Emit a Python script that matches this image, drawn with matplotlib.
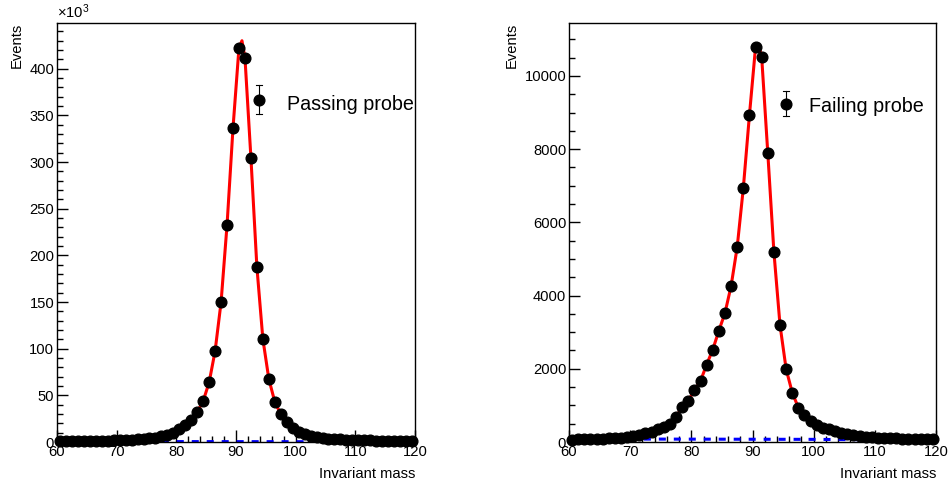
import numpy as np
import matplotlib
matplotlib.use("Agg")
import matplotlib.pyplot as plt
from matplotlib.ticker import MultipleLocator

plt.rcParams['font.family'] = ['Liberation Sans', 'DejaVu Sans']
plt.rcParams['mathtext.fontset'] = 'custom'
plt.rcParams['mathtext.rm'] = 'Liberation Sans'
plt.rcParams['mathtext.it'] = 'Liberation Sans'

# ---- data ----
bin_centers = np.arange(60.5, 120.0, 1.0)

passing = [0.85, 0.9, 0.95, 1.0, 1.1, 1.2, 1.3, 1.4, 1.5, 1.7,
           1.9, 2.1, 2.4, 2.8, 3.3, 3.9, 4.6, 6.1, 7.9, 10.0,
           13.6, 18.2, 23.6, 32, 44, 64, 97.6, 150, 232.7, 336.7,
           422.5, 411.8, 304.6, 187.7, 110.5, 67.6, 43, 30, 21, 14.7,
           10.7, 8.2, 6.4, 5.2, 4.3, 3.6, 3.1, 2.7, 2.4, 2.2,
           2.0, 1.8, 1.7, 1.6, 1.5, 1.4, 1.3, 1.25, 1.2, 1.15]  # x10^3

failing = [65, 70, 75, 80, 85, 90, 100, 110, 120, 140,
           155, 191, 237, 282, 346, 401, 492, 692, 948, 1120,
           1421, 1667, 2113, 2523, 3040, 3525, 4262, 5328, 6940, 8934,
           10792, 10519, 7896, 5191, 3190, 1990, 1348, 938, 738, 583,
           464, 392, 346, 300, 255, 210, 180, 160, 145, 130,
           120, 110, 105, 100, 95, 90, 85, 80, 75, 70]

# fit peak
fit_peak_x = [91.0]
fit_peak_pass = [430]
fit_peak_fail = [10870]

# background (blue dashed)
bkg_x = [60, 70, 80, 90, 100, 110, 120]
bkg_pass = [0.6, 0.5, 0.45, 0.4, 0.35, 0.3, 0.3]
bkg_fail = [85, 80, 78, 75, 72, 60, 50]

x_ticks_major = 10
x_ticks_minor = 2

panels = [
    dict(vals=passing, peak=fit_peak_pass, bkg=bkg_pass, ymax=449,
         major=50, minor=10, label="Passing probe", rect=(57, 23, 415, 442),
         leg=(259, 100, 85, 114, 287, 104), exp=True),
    dict(vals=failing, peak=fit_peak_fail, bkg=bkg_fail, ymax=11448,
         major=2000, minor=500, label="Failing probe", rect=(569, 23, 936, 442),
         leg=(786, 104, 91, 116, 809, 106), exp=False),
]

W, H = 948, 486
fig = plt.figure(figsize=(W / 100, H / 100), dpi=100)

FS = 10.6
for p in panels:
    x0, y0, x1, y1 = p['rect']
    ax = fig.add_axes([x0 / W, 1 - y1 / H, (x1 - x0) / W, (y1 - y0) / H])
    vals = np.array(p['vals'], dtype=float)

    fx = np.concatenate([bin_centers, fit_peak_x])
    fy = np.concatenate([vals, p['peak']])
    order = np.argsort(fx)
    ax.plot(bkg_x, p['bkg'], color='blue', lw=2.2, ls=(0, (2.3, 2.6)), zorder=2)
    ax.plot(fx[order], fy[order], color='red', lw=2.2, zorder=3)
    ax.plot(bin_centers, vals, 'o', color='black', ms=7.7, zorder=4, clip_on=False)

    ax.set_xlim(60, 120)
    ax.set_ylim(0, p['ymax'])
    ax.xaxis.set_major_locator(MultipleLocator(x_ticks_major))
    ax.xaxis.set_minor_locator(MultipleLocator(x_ticks_minor))
    ax.yaxis.set_major_locator(MultipleLocator(p['major']))
    ax.yaxis.set_minor_locator(MultipleLocator(p['minor']))
    ax.tick_params(which='both', direction='in', top=False, right=False,
                   labelsize=FS, width=1.0, colors='black')
    ax.tick_params(axis='x', which='major', length=9.0, pad=2)
    ax.tick_params(axis='x', which='minor', length=4.5)
    ax.tick_params(axis='y', which='major', length=7.8, pad=2)
    ax.tick_params(axis='y', which='minor', length=4.0)
    for s in ax.spines.values():
        s.set_linewidth(1.0)

    # axis titles (ROOT style: right/top aligned)
    ax.set_xlabel("Invariant mass", fontsize=FS, ha='right', x=1.0, labelpad=6)
    ax.set_ylabel("Events", fontsize=FS, ha='right', y=1.0, labelpad=4)

    # legend drawn manually
    mx, my, ey0, ey1, tx, ty = p['leg']
    def fx_(px):
        return (px - x0) / (x1 - x0)
    def fy_(py):
        return (y1 - py) / (y1 - y0)
    ax.plot([fx_(mx), fx_(mx)], [fy_(ey0), fy_(ey1)], color='black', lw=0.8,
            transform=ax.transAxes, clip_on=False, zorder=5)
    for ey in (ey0, ey1):
        ax.plot([fx_(mx - 3), fx_(mx + 3)], [fy_(ey), fy_(ey)], color='black', lw=0.8,
                transform=ax.transAxes, clip_on=False, zorder=5)
    ax.plot([fx_(mx)], [fy_(my)], 'o', color='black', ms=7.7,
            transform=ax.transAxes, clip_on=False, zorder=6)
    ax.text(fx_(tx), fy_(ty), p['label'], fontsize=14.2, ha='left', va='center',
            transform=ax.transAxes)

    if p['exp']:
        ax.text(0.0, 1.005, r'$\times10^{3}$', fontsize=FS, ha='left', va='bottom',
                transform=ax.transAxes)

fig.savefig("out.png", dpi=100)
